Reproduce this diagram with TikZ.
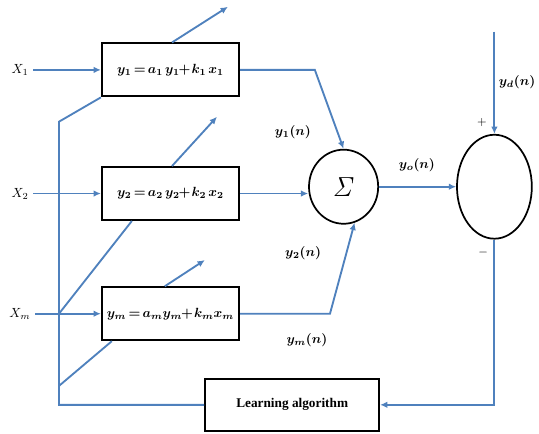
\documentclass[tikz,border=0pt]{standalone}
\usepackage{amsmath,amssymb,bm}
\usepackage[no-math]{fontspec}
\newfontfamily\timesfont{Liberation Serif}
\usepackage{tikz}
\usetikzlibrary{arrows.meta,shapes.geometric}
\definecolor{linkblue}{RGB}{79,129,189}
\newcommand\tightmath{\thickmuskip=3mu\relax\medmuskip=1.5mu\relax}

\begin{document}
\begin{tikzpicture}[>={Latex[length=5.5pt,width=5pt]}, every node/.style={font=\normalsize},
  blk/.style={draw,line width=1.5pt,minimum width=3.63cm,minimum height=1.4cm,inner sep=0pt,
    font=\normalsize\tightmath},
  wire/.style={draw=linkblue,line width=1.4pt}]
\useasboundingbox (0,0) rectangle (14.26,11.48);
% neuron blocks
\node[blk] (b1) at (4.51,9.63) {$\bm{y_1 = a_1\, y_1\!+ k_1\, x_1}$};
\node[blk] (b2) at (4.51,6.36) {$\bm{y_2 = a_2\, y_2\!+ k_2\, x_2}$};
\node[blk] (bm) at (4.51,3.18) {$\bm{y_m = a_m y_m\!+ k_m x_m}$};
\node[blk,minimum width=4.6cm,minimum height=1.38cm] (learn) at (7.73,0.77) {\timesfont\bfseries Learning algorithm};
\node[draw,ellipse,line width=1.3pt,minimum width=1.83cm,minimum height=1.96cm] (sum) at (9.09,6.54) {\huge$\mathit{\Sigma}$};
\node[draw,ellipse,line width=1.3pt,minimum width=1.98cm,minimum height=2.75cm] (cmp) at (13.08,6.54) {};
% inputs
\node (x1) at (0.53,9.63) {$X_1$};
\node (x2) at (0.53,6.36) {$X_2$};
\node (xm) at (0.53,3.18) {$X_m$};
\draw[wire,->] (x1) -- (b1);
\draw[wire,->] (x2) -- (b2);
\draw[wire,->] (xm) -- (bm);
% outputs to the sum
\coordinate (k1) at (8.33,9.63);
\coordinate (km) at (8.73,3.18);
\draw[wire,->] (b1.east) -- (k1) -- (sum.north);
\draw[wire,->] (b2.east) -- (b2.east -| sum.west);
\draw[wire,->] (bm.east) -- (km) -- (sum.-73);
\draw[wire,->] (sum) -- (cmp);
\coordinate (yd0) at (13.08,10.64);
\draw[wire,->] (yd0) -- (cmp.north);
\draw[wire,->] (cmp.south) |- (learn.east);
% learning feedback
\coordinate (j1) at (1.56,8.26);
\coordinate (jl) at (1.56,1.27);
\draw[wire] (learn.west) -| (j1) -- (b1.south west);
\draw[wire] (bm.west -| j1) -- ([xshift=0.82cm]b2.south west);
\draw[wire] (jl) -- ([xshift=0.29cm]bm.south west);
% outgoing arrows
\coordinate (o1) at (6.03,11.30);
\coordinate (o2) at (5.74,8.39);
\coordinate (om) at (5.42,4.60);
\draw[wire,->] ([xshift=0.04cm]b1.north) -- (o1);
\draw[wire,->] ([xshift=0.04cm]b2.north) -- (o2);
\draw[wire,->] ([xshift=-0.15cm]bm.north) -- (om);
% labels
\node (l1) at (7.75,7.99) {$\bm{y_1(n)}$};
\node (l2) at (8.02,4.79) {$\bm{y_2(n)}$};
\node (lm) at (8.12,2.49) {$\bm{y_m(n)}$};
\node (lo) at (11.03,7.12) {$\bm{y_o(n)}$};
\node (ld) at (13.68,9.31) {$\bm{y_d(n)}$};
\node[font=\small] (plus) at (12.75,8.23) {$+$};
\node[font=\small] (minus) at (12.78,4.79) {$-$};
\end{tikzpicture}
\end{document}
